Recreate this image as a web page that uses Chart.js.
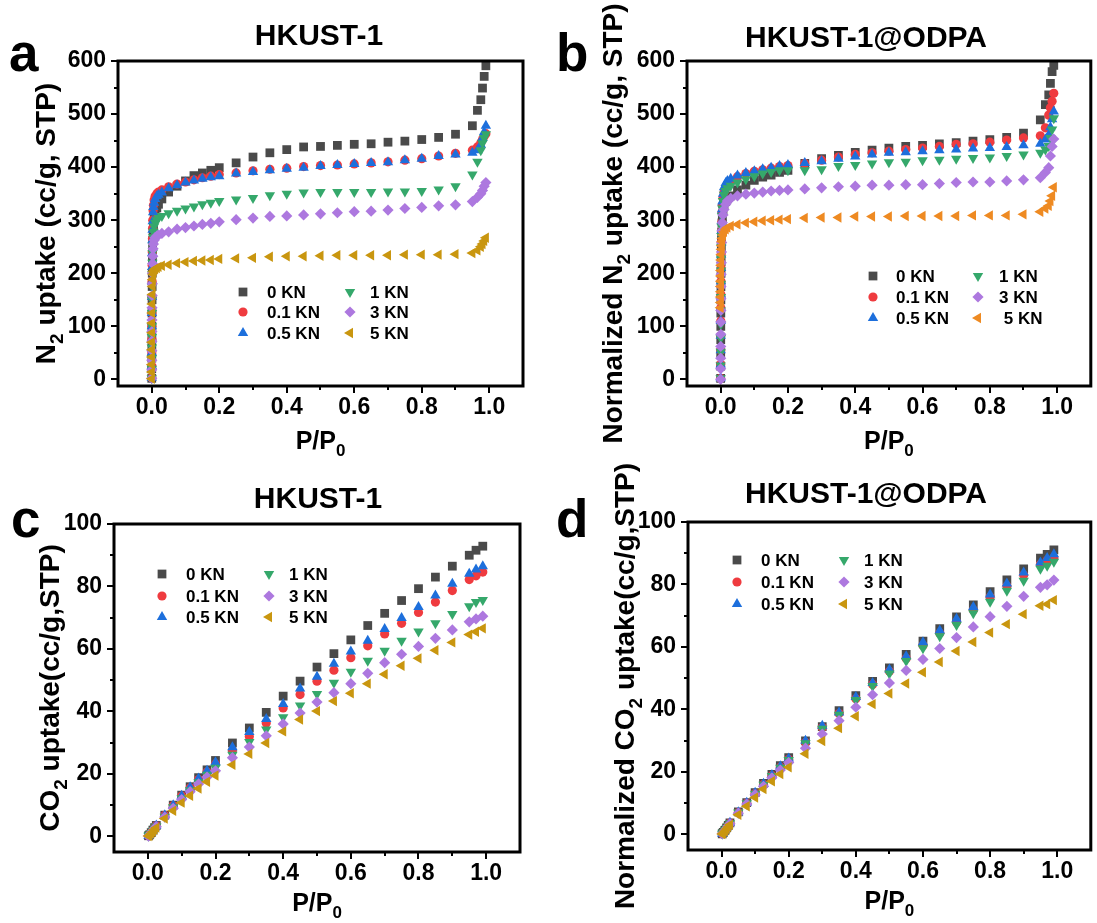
<!DOCTYPE html>
<html><head><meta charset="utf-8">
<script src="https://cdn.jsdelivr.net/npm/chart.js@4/dist/chart.umd.min.js"></script>
<style>
html,body{margin:0;padding:0;background:#fff;}
#wrap{position:relative;width:1097px;height:923px;overflow:hidden;}
canvas{position:absolute;}
</style></head><body>
<div id="wrap">
<canvas id="ca" width="548" height="462" style="left:0;top:0"></canvas>
<canvas id="cb" width="549" height="462" style="left:548px;top:0"></canvas>
<canvas id="cc" width="548" height="461" style="left:0;top:462px"></canvas>
<canvas id="cd" width="549" height="461" style="left:548px;top:462px"></canvas>
</div>
<script>
// ---------- data ----------
const seriesNames  = ['0 KN','0.1 KN','0.5 KN','1 KN','3 KN','5 KN'];
const seriesNamesB = ['0 KN','0.1 KN','0.5 KN','1 KN','3 KN',' 5 KN'];

const xTicks = [0, 0.2, 0.4, 0.6, 0.8, 1.0];
const xMinorTicks = [0.1, 0.3, 0.5, 0.7, 0.9];
const yTicksN2 = [0, 100, 200, 300, 400, 500, 600];
const yMinorN2 = [50, 150, 250, 350, 450, 550];
const yTicksCO2 = [0, 20, 40, 60, 80, 100];
const yMinorCO2 = [10, 30, 50, 70, 90];

// relative pressure points, N2 isotherms
const pN2 = [0,0.0001,0.0002,0.0003,0.0004,0.0005,0.0007,0.0009,0.0012,0.0015,
  0.002,0.0025,0.003,0.004,0.005,0.007,0.01,0.015,0.02,0.03,
  0.05,0.075,0.1,0.125,0.15,0.175,0.2,
  0.25,0.3,0.35,0.4,0.45,0.5,0.55,0.6,0.65,0.7,0.75,0.8,0.85,0.9,
  0.95,0.965,0.975,0.98,0.985,0.99];

// panel a: HKUST-1, N2
const aN2_0KN  = [2,20,40,60,80,100,125,150,175,200, 225,245,262,280,292,305,315,323,330,340, 353,364,374,384,389,394,399, 408,419,427,433,438,439,441,443,444,447,449,452,456,462, 478,507,527,549,571,591];
const aN2_01KN = [3,25,50,75,100,125,155,185,215,240, 265,285,300,318,328,338,345,350,353,357, 363,368,372,376,380,383,386, 389,393,396,398,401,403,404,406,408,410,413,416,421,426, 432,438,446,452,458,463];
const aN2_05KN = [3,25,50,75,100,125,155,185,212,238, 262,282,298,315,325,333,340,345,348,352, 360,366,371,375,378,381,383, 388,391,394,397,399,402,404,406,408,409,413,416,421,424, 427,432,442,455,466,478];
const aN2_1KN  = [2,20,40,60,80,100,125,150,175,198, 220,238,252,268,278,288,295,300,304,308, 313,318,322,326,330,333,336, 339,342,347,350,352,353,353,353,353,354,354,355,358,364, 386,410,432,445,455,462];
const aN2_3KN  = [2,18,36,54,72,90,112,135,158,180, 200,218,232,246,255,262,267,270,272,275, 278,283,286,289,292,294,297, 301,304,307,308,310,312,314,316,317,319,322,324,327,329, 335,343,350,356,364,371];
const aN2_5KN  = [1,14,28,42,56,70,88,106,125,142, 160,175,188,198,203,206,208,210,212,214, 216,219,221,223,224,225,227, 228,229,231,232,232,233,234,234,234,234,235,235,235,236, 238,243,250,255,261,267];

// panel b: HKUST-1@ODPA, normalized N2
const bN2_0KN  = [2,25,50,75,100,125,150,175,200,222, 245,262,278,295,305,318,328,335,340,346, 357,366,375,381,385,390,394, 407,416,422,428,432,436,439,441,444,446,449,452,456,464, 489,518,536,558,580,592];
const bN2_01KN = [2,28,55,82,110,135,160,185,210,235, 258,278,295,315,328,342,352,360,366,374, 382,388,392,395,398,401,403, 407,413,419,424,427,430,433,436,439,443,444,447,451,455, 459,474,498,512,524,539];
const bN2_05KN = [2,28,55,82,110,135,160,185,210,235, 258,280,298,320,335,350,362,370,374,378, 384,389,392,396,399,402,404, 408,411,416,420,424,427,428,430,432,433,435,436,438,441, 444,452,461,475,490,505];
const bN2_1KN  = [2,26,52,78,104,130,155,180,205,228, 250,270,288,308,322,336,348,355,360,365, 371,377,383,388,391,394,394, 394,396,402,404,407,409,410,413,414,416,417,418,421,424, 427,433,440,455,471,492];
const bN2_3KN  = [0,20,40,62,85,108,130,152,175,198, 220,240,258,280,295,310,320,330,336,341, 346,349,351,353,355,356,357, 359,361,363,364,366,366,367,367,369,371,372,372,374,376, 380,390,399,421,439,453];
const bN2_5KN  = [135,145,155,165,175,185,195,205,215,225, 235,245,252,260,266,272,278,283,286,289, 292,295,297,299,300,301,302, 304,305,305,307,307,307,308,308,308,308,309,309,309,311, 316,322,327,336,346,362];

// relative pressure points, CO2 isotherms
const pCO2 = [0.002,0.005,0.01,0.015,0.02,0.025,0.05,0.075,0.1,0.125,0.15,0.175,0.2,
  0.25,0.3,0.35,0.4,0.45,0.5,0.55,0.6,0.65,0.7,0.75,0.8,0.85,0.9,0.95,0.97,0.99];

// panel c: HKUST-1, CO2
const cCO2_0KN  = [0.2,0.5,1.2,2.0,2.8,3.5,6.8,10.0,13.2,15.9,18.8,21.3,24.3,29.9,34.7,39.7,44.9,49.7,54.2,58.5,62.9,67.5,71.4,75.5,79.3,83.0,86.5,90.0,91.6,92.9];
const cCO2_01KN = [0.2,0.5,1.2,1.9,2.7,3.4,6.7,9.8,12.9,15.5,18.2,20.6,23.2,27.4,32.0,36.3,41.1,45.4,49.7,53.2,57.2,61.0,64.8,68.2,71.7,75.0,78.7,82.2,83.4,84.6];
const cCO2_05KN = [0.2,0.5,1.2,2.0,2.8,3.5,6.8,10.0,13.0,15.7,18.5,21.0,23.7,28.5,33.4,37.6,42.4,47.3,51.1,55.3,59.2,62.6,66.4,69.9,73.4,77.1,80.9,84.1,85.4,86.5];
const cCO2_1KN  = [0.2,0.5,1.1,1.8,2.5,3.2,6.3,9.3,12.2,14.8,17.3,19.7,22.0,26.1,30.2,34.2,38.1,41.9,45.6,49.2,52.7,56.2,59.4,62.6,65.6,68.2,71.2,73.7,75.0,75.7];
const cCO2_3KN  = [0.1,0.4,1.1,1.8,2.5,3.1,6.2,9.0,11.8,14.3,16.8,19.0,21.0,25.2,28.6,32.2,36.0,39.5,43.0,46.0,48.9,52.2,55.6,58.3,60.8,63.4,66.1,68.7,69.6,70.5];
const cCO2_5KN  = [0.1,0.3,0.9,1.5,2.2,2.8,5.7,8.2,10.8,13.0,15.3,17.5,19.5,22.9,26.4,29.9,33.6,37.4,40.1,43.3,45.8,48.9,51.9,54.6,57.0,59.6,62.1,64.6,65.5,66.6];

// panel d: HKUST-1@ODPA, normalized CO2
const dCO2_0KN  = [0.2,0.6,1.3,2.1,2.9,3.7,7.2,10.2,13.4,16.3,19.2,22.0,24.6,29.9,34.5,39.6,44.4,49.0,53.3,57.6,61.9,65.9,69.6,73.5,77.7,81.5,85.0,88.4,89.6,91.1];
const dCO2_01KN = [0.2,0.6,1.3,2.0,2.8,3.6,7.0,10.0,13.1,16.0,18.8,21.5,24.0,29.4,34.2,38.7,43.4,48.0,52.2,56.3,60.5,64.4,68.0,71.8,76.0,79.5,83.0,86.5,87.7,88.5];
const dCO2_05KN = [0.2,0.6,1.3,2.1,2.9,3.7,7.1,10.1,13.3,16.2,19.0,21.8,24.3,30.0,34.8,39.0,44.0,48.5,52.8,57.0,61.5,65.3,69.0,72.8,76.8,80.3,83.8,87.0,88.5,89.7];
const dCO2_1KN  = [0.2,0.6,1.3,2.0,2.8,3.6,7.0,10.0,13.0,15.9,18.7,21.3,23.8,29.2,33.8,38.3,43.0,47.5,51.5,55.5,59.6,63.4,67.0,70.8,74.5,78.0,81.2,85.0,86.0,87.3];
const dCO2_3KN  = [0.2,0.5,1.2,1.9,2.7,3.4,6.8,9.7,12.7,15.4,18.1,20.6,23.0,27.6,32.1,36.4,40.7,44.7,48.5,52.5,56.0,59.5,63.0,66.4,69.7,73.0,76.2,79.1,79.9,81.4];
const dCO2_5KN  = [0.1,0.4,1.0,1.7,2.4,3.1,6.3,9.0,11.8,14.5,17.0,19.3,21.5,25.8,29.9,34.0,37.8,41.7,45.1,48.3,51.9,55.2,58.7,61.6,64.6,67.3,70.5,73.2,73.7,75.0];

// ---------- styles ----------
const FONT = '"Liberation Sans", Arial, Helvetica, sans-serif';
const markerStyles = [
  {shape:'rect',     rot:0,   r:6.2, color:'#4a4a4a'},
  {shape:'circle',   rot:0,   r:4.6, color:'#ef3b3f'},
  {shape:'triangle', rot:0,   r:6.0, color:'#1d6fdc'},
  {shape:'triangle', rot:180, r:6.0, color:'#35a86b'},
  {shape:'rectRot',  rot:0,   r:5.6, color:'#ad78df'},
  {shape:'triangle', rot:-90, r:6.0, color:'#c9960f'}
];
const orangeB = '#ee8a22';

function drawMarker(ctx, m, color, x, y) {
  ctx.save();
  ctx.translate(x, y);
  ctx.rotate(m.rot * Math.PI / 180);
  ctx.fillStyle = color;
  ctx.beginPath();
  const r = m.r;
  if (m.shape === 'rect') { const s = r * Math.SQRT1_2; ctx.rect(-s, -s, 2 * s, 2 * s); }
  else if (m.shape === 'circle') { ctx.arc(0, 0, r, 0, Math.PI * 2); }
  else if (m.shape === 'rectRot') { ctx.moveTo(0, -r); ctx.lineTo(r, 0); ctx.lineTo(0, r); ctx.lineTo(-r, 0); ctx.closePath(); }
  else { ctx.moveTo(0, -r); ctx.lineTo(r * 0.866, r * 0.5); ctx.lineTo(-r * 0.866, r * 0.5); ctx.closePath(); }
  ctx.fill();
  ctx.restore();
}

// text with subscripts written as _{..}; drawn centred at (x,y), rotated by rot
function drawRich(ctx, text, x, y, size, rot) {
  const parts = [];
  const re = /_\{([^}]*)\}/g;
  let last = 0, m;
  while ((m = re.exec(text)) !== null) {
    if (m.index > last) parts.push({t: text.slice(last, m.index), sub: false});
    parts.push({t: m[1], sub: true});
    last = re.lastIndex;
  }
  if (last < text.length) parts.push({t: text.slice(last), sub: false});
  const main = 'bold ' + size + 'px ' + FONT;
  const small = 'bold ' + Math.round(size * 0.68) + 'px ' + FONT;
  let w = 0;
  parts.forEach(p => { ctx.font = p.sub ? small : main; p.w = ctx.measureText(p.t).width; w += p.w; });
  ctx.save();
  ctx.translate(x, y);
  ctx.rotate(rot);
  ctx.fillStyle = '#000';
  ctx.textBaseline = 'alphabetic';
  ctx.textAlign = 'left';
  let cx = -w / 2;
  const base = size * 0.36;
  parts.forEach(p => {
    ctx.font = p.sub ? small : main;
    ctx.fillText(p.t, cx, base + (p.sub ? size * 0.27 : 0));
    cx += p.w;
  });
  ctx.restore();
}

const decorPlugin = {
  id: 'decor',
  afterDatasetsDraw(chart, args, o) {
    const {ctx, chartArea: ca, scales} = chart;
    ctx.save();
    ctx.strokeStyle = '#000';
    ctx.lineWidth = 2;
    o.xMinor.forEach(v => { const px = Math.round(scales.x.getPixelForValue(v)); ctx.beginPath(); ctx.moveTo(px, ca.bottom); ctx.lineTo(px, ca.bottom + 4); ctx.stroke(); });
    o.yMinor.forEach(v => { const py = Math.round(scales.y.getPixelForValue(v)); ctx.beginPath(); ctx.moveTo(ca.left, py); ctx.lineTo(ca.left - 4, py); ctx.stroke(); });
    ctx.lineWidth = 3;
    ctx.strokeRect(ca.left, ca.top, ca.right - ca.left, ca.bottom - ca.top);
    // legend (two columns of three)
    ctx.font = 'bold 17px ' + FONT;
    ctx.textBaseline = 'middle';
    ctx.textAlign = 'left';
    chart.data.datasets.forEach((ds, i) => {
      const col = i < 3 ? 0 : 1, row = i % 3;
      const y = ca.top + o.legend.ry[row];
      drawMarker(ctx, markerStyles[i], ds.backgroundColor, ca.left + o.legend.mx[col], y);
      ctx.fillStyle = '#000';
      ctx.fillText(ds.label, ca.left + o.legend.tx[col], y + 1);
    });
    // axis titles
    drawRich(ctx, o.xtitle, (ca.left + ca.right) / 2, o.xty, 25, 0);
    drawRich(ctx, o.ytitle, o.ytx, (ca.top + ca.bottom) / 2, 28, -Math.PI / 2);
    // panel title and letter
    ctx.fillStyle = '#000';
    ctx.textBaseline = 'alphabetic';
    ctx.textAlign = 'center';
    ctx.font = 'bold 30px ' + FONT;
    ctx.fillText(o.title, o.tx, o.ty);
    ctx.textAlign = 'left';
    ctx.font = 'bold 53px ' + FONT;
    ctx.fillText(o.letter, o.lx, o.ly);
    ctx.restore();
  }
};

function makeDatasets(xs, ysList, names, lastColor) {
  return ysList.map((ys, i) => {
    const m = markerStyles[i];
    const c = (i === 5 && lastColor) ? lastColor : m.color;
    return {
      label: names[i],
      data: xs.map((x, k) => ({x: x, y: ys[k]})),
      pointStyle: m.shape,
      pointRotation: m.rot,
      pointRadius: m.r,
      backgroundColor: c,
      borderColor: c,
      pointBackgroundColor: c,
      pointBorderColor: c,
      pointBorderWidth: 0,
      showLine: false,
      order: 10 - i
    };
  });
}

function build(id, cfg) {
  const tickFont = {family: FONT, size: 23, weight: 'bold'};
  new Chart(document.getElementById(id), {
    type: 'scatter',
    data: {datasets: makeDatasets(cfg.xs, cfg.ys, cfg.names, cfg.lastColor)},
    options: {
      responsive: false,
      animation: false,
      events: [],
      layout: {padding: {left: 0, top: cfg.padTop, right: cfg.padRight, bottom: 0}},
      plugins: {
        legend: {display: false},
        tooltip: {enabled: false},
        decor: {xMinor: xMinorTicks, yMinor: cfg.yMinor, legend: cfg.legend,
                xtitle: 'P/P_{0}', xty: cfg.xty, ytitle: cfg.ytitle, ytx: cfg.ytx,
                title: cfg.title, tx: cfg.tx, ty: cfg.ty, letter: cfg.letter, lx: cfg.lx, ly: cfg.ly}
      },
      scales: {
        x: {
          type: 'linear', min: -0.1, max: 1.1,
          afterBuildTicks: s => { s.ticks = xTicks.map(v => ({value: v})); },
          afterFit: s => { s.height = cfg.xh; },
          ticks: {callback: v => Number(v).toFixed(1), font: tickFont, color: '#000', padding: 1, maxRotation: 0, autoSkip: false},
          grid: {drawOnChartArea: false, drawTicks: true, tickLength: 7, color: '#000', lineWidth: 2},
          border: {display: false}
        },
        y: {
          type: 'linear', min: cfg.ymin, max: cfg.ymax,
          afterBuildTicks: s => { s.ticks = cfg.yTicks.map(v => ({value: v})); },
          afterFit: s => { s.width = cfg.yw; },
          ticks: {callback: v => String(v), font: tickFont, color: '#000', padding: 5, autoSkip: false},
          grid: {drawOnChartArea: false, drawTicks: true, tickLength: 7, color: '#000', lineWidth: 2},
          border: {display: false}
        }
      }
    },
    plugins: [decorPlugin]
  });
}

build('ca', {
  xs: pN2, ys: [aN2_0KN, aN2_01KN, aN2_05KN, aN2_1KN, aN2_3KN, aN2_5KN], names: seriesNames,
  padTop: 61, padRight: 25, yw: 118, xh: 76,
  ymin: -12.5, ymax: 600, yTicks: yTicksN2, yMinor: yMinorN2,
  ytitle: 'N_{2} uptake (cc/g, STP)', ytx: 45, xty: 440,
  legend: {mx: [125, 232], tx: [149, 252], ry: [231, 251, 272]},
  title: 'HKUST-1', tx: 319, ty: 45, letter: 'a', lx: 9, ly: 71
});
build('cb', {
  xs: pN2, ys: [bN2_0KN, bN2_01KN, bN2_05KN, bN2_1KN, bN2_3KN, bN2_5KN], names: seriesNamesB, lastColor: orangeB,
  padTop: 61, padRight: 5, yw: 139, xh: 76,
  ymin: -12.5, ymax: 600, yTicks: yTicksN2, yMinor: yMinorN2,
  ytitle: 'Normalized N_{2} uptake (cc/g, STP)', ytx: 64, xty: 440,
  legend: {mx: [186, 291], tx: [209, 312], ry: [215, 236, 257]},
  title: 'HKUST-1@ODPA', tx: 318, ty: 47, letter: 'b', lx: 8, ly: 71
});
build('cc', {
  xs: pCO2, ys: [cCO2_0KN, cCO2_01KN, cCO2_05KN, cCO2_1KN, cCO2_3KN, cCO2_5KN], names: seriesNames,
  padTop: 62, padRight: 28, yw: 114, xh: 71,
  ymin: -5, ymax: 100, yTicks: yTicksCO2, yMinor: yMinorCO2,
  ytitle: 'CO_{2} uptake(cc/g,STP)', ytx: 49, xty: 440,
  legend: {mx: [48, 155], tx: [72, 175], ry: [50, 72, 93]},
  title: 'HKUST-1', tx: 318, ty: 46, letter: 'c', lx: 11, ly: 75
});
build('cd', {
  xs: pCO2, ys: [dCO2_0KN, dCO2_01KN, dCO2_05KN, dCO2_1KN, dCO2_3KN, dCO2_5KN], names: seriesNames,
  padTop: 60, padRight: 5, yw: 140, xh: 73,
  ymin: -5, ymax: 100, yTicks: yTicksCO2, yMinor: yMinorCO2,
  ytitle: 'Normalized CO_{2} uptake(cc/g,STP)', ytx: 76, xty: 438,
  legend: {mx: [49, 156], tx: [73, 176], ry: [38, 60, 82]},
  title: 'HKUST-1@ODPA', tx: 318, ty: 41, letter: 'd', lx: 8, ly: 75
});
</script>
</body></html>
